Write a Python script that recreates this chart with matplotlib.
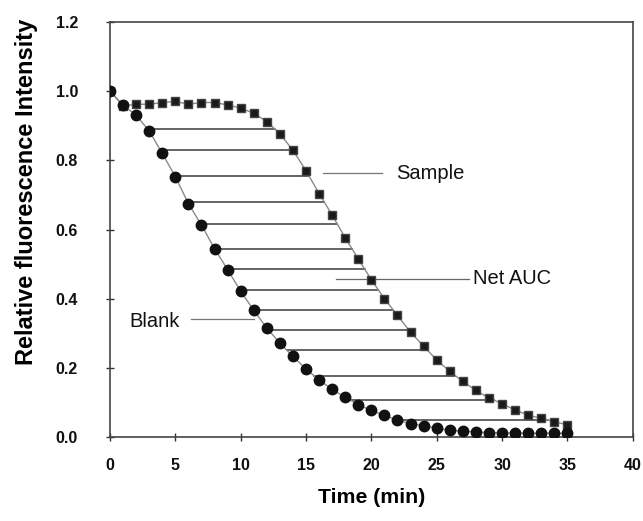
import numpy as np
import matplotlib
matplotlib.use("Agg")
import matplotlib.pyplot as plt

plt.rcParams['font.family'] = ['Liberation Sans', 'DejaVu Sans']

time_min = list(range(0, 36))
blank = [1.0, 0.96, 0.93, 0.885, 0.82, 0.753, 0.675, 0.613, 0.545, 0.484,
         0.422, 0.367, 0.315, 0.272, 0.233, 0.197, 0.165, 0.138, 0.115, 0.094,
         0.077, 0.063, 0.049, 0.039, 0.033, 0.025, 0.020, 0.017, 0.015, 0.013,
         0.012, 0.012, 0.011, 0.011, 0.011, 0.011]
sample = [1.0, 0.957, 0.962, 0.962, 0.967, 0.970, 0.962, 0.967, 0.967, 0.960,
          0.951, 0.936, 0.912, 0.877, 0.829, 0.770, 0.704, 0.642, 0.576, 0.515,
          0.455, 0.400, 0.352, 0.303, 0.263, 0.223, 0.190, 0.161, 0.135, 0.113,
          0.097, 0.078, 0.064, 0.054, 0.045, 0.035]
# levels of the horizontal hatch lines (net AUC)
hatch_levels = [0.89, 0.83, 0.755, 0.68, 0.615, 0.545, 0.485, 0.425, 0.368,
                0.31, 0.252, 0.178, 0.107, 0.049]
x_ticks = [0, 5, 10, 15, 20, 25, 30, 35, 40]
y_ticks = [0.0, 0.2, 0.4, 0.6, 0.8, 1.0, 1.2]


def crossing(t, v, level, start=0):
    t = np.asarray(t, float)
    v = np.asarray(v, float)
    for i in range(start, len(v) - 1):
        if v[i] >= level > v[i + 1]:
            return t[i] + (v[i] - level) / (v[i] - v[i + 1]) * (t[i + 1] - t[i])
    return t[-1]


fig = plt.figure(figsize=(6.43, 5.21), dpi=100)
ax = fig.add_axes([0.171, 0.161, 0.813, 0.797])

# hatch lines
for lv in hatch_levels:
    t0 = crossing(time_min, blank, lv)
    t1 = crossing(time_min, sample, lv, start=10)
    ax.plot([t0, t1], [lv, lv], color='#3a3a3a', lw=1.1, zorder=2)

ax.plot(time_min, blank, color='#8a8a8a', lw=1.0, zorder=3)
ax.plot(time_min, sample, color='#8a8a8a', lw=1.0, zorder=3)
ax.plot(time_min, sample, ls='none', marker='s', ms=6, color='#1a1a1a',
        mec='#444444', zorder=4)
ax.plot(time_min, blank, ls='none', marker='o', ms=7.5, color='#111111', zorder=5)

# annotations
ax.plot([16.3, 20.8], [0.762, 0.762], color='#777777', lw=0.9)
ax.text(21.9, 0.762, 'Sample', fontsize=14.5, va='center', ha='left', color='#111111')
ax.plot([17.3, 27.5], [0.458, 0.458], color='#666666', lw=0.9)
ax.text(27.8, 0.458, 'Net AUC', fontsize=14.5, va='center', ha='left', color='#111111')
ax.plot([6.2, 11.0], [0.342, 0.342], color='#777777', lw=0.9)
ax.text(1.5, 0.333, 'Blank', fontsize=14.5, va='center', ha='left', color='#111111')

ax.set_xlim(0, 40)
ax.set_ylim(0, 1.2)
ax.set_xticks(x_ticks)
ax.set_yticks(y_ticks)
ax.set_xticklabels([str(v) for v in x_ticks], fontsize=11.5, fontweight='bold')
ax.set_yticklabels([f'{v:.1f}' for v in y_ticks], fontsize=11.5, fontweight='bold')
ax.tick_params(axis='x', direction='inout', length=6, width=1, pad=12, colors='#333333',
               labelcolor='#111111')
ax.tick_params(axis='y', direction='inout', length=6, width=1, pad=20, colors='#333333',
               labelcolor='#111111')

for s in ax.spines.values():
    s.set_color('#444444')
    s.set_linewidth(1.2)

ax.set_ylabel('Relative fluorescence Intensity', fontsize=17, fontweight='bold')
ax.yaxis.set_label_coords(-0.16, 0.59)
ax.set_xlabel('Time (min)', fontsize=15.3, fontweight='bold')
ax.xaxis.set_label_coords(0.5, -0.145)
ax.xaxis.label.set_va('center')
ax.yaxis.label.set_va('center')

fig.savefig('out.png', dpi=100, facecolor='white')
